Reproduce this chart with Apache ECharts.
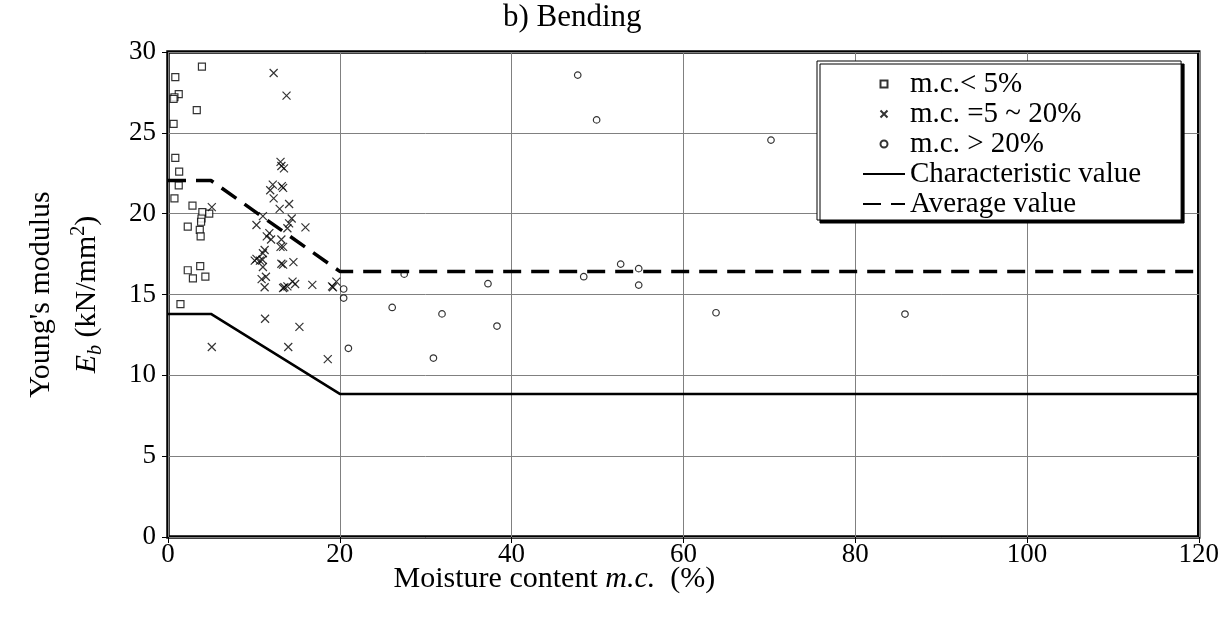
<!DOCTYPE html>
<html>
<head>
<meta charset="utf-8">
<script src="https://cdn.jsdelivr.net/npm/echarts@6/dist/echarts.min.js"></script>
<style>
  html, body { margin: 0; padding: 0; background: #fff; }
  #chartBending { width: 1222px; height: 623px; }
</style>
</head>
<body>
<div id="chartBending"></div>
<script>
// moisture content (%) and Young's modulus E_b (kN/mm2)
var dryPoints = [
  [3.95, 29.1], [0.85, 28.45], [1.25, 27.4], [0.75, 27.2], [0.65, 27.1], [3.35, 26.4],
  [0.65, 25.55], [0.85, 23.45], [1.3, 22.6], [1.25, 21.75], [0.75, 20.95], [2.85, 20.5],
  [4.0, 20.1], [4.8, 20.0], [3.9, 19.7], [3.85, 19.5], [2.3, 19.2], [3.7, 19.0],
  [3.8, 18.6], [2.3, 16.5], [3.75, 16.75], [2.9, 16.0], [4.35, 16.1], [1.45, 14.4]
];
var midPoints = [
  [12.3, 28.7], [13.8, 27.3], [13.1, 23.2], [13.2, 22.95], [13.5, 22.8], [12.2, 21.8],
  [13.25, 21.7], [13.4, 21.6], [11.9, 21.45], [12.3, 20.95], [14.1, 20.6], [13.0, 20.3],
  [11.05, 19.85], [14.4, 19.7], [10.3, 19.3], [14.1, 19.4], [13.9, 19.1], [16.0, 19.15],
  [5.1, 20.4], [11.8, 18.8], [11.5, 18.6], [12.0, 18.4], [13.2, 18.4], [13.1, 17.95],
  [13.4, 17.95], [11.25, 17.75], [11.05, 17.55], [10.3, 17.2], [10.7, 17.1], [11.0, 17.15],
  [10.1, 17.1], [11.05, 16.7], [13.2, 16.9], [13.4, 16.85], [14.6, 17.0], [10.9, 15.95],
  [11.4, 16.1], [11.25, 15.45], [13.55, 15.45], [13.4, 15.4], [13.9, 15.5], [14.5, 15.8],
  [14.8, 15.65], [16.8, 15.6], [19.1, 15.5], [19.2, 15.45], [19.6, 15.8], [11.3, 13.5],
  [15.3, 13.0], [14.0, 11.75], [18.6, 11.0], [5.1, 11.75]
];
var wetPoints = [
  [20.45, 15.34], [20.45, 14.78], [27.5, 16.26], [26.1, 14.2], [31.9, 13.8], [37.25, 15.67],
  [38.3, 13.05], [21.0, 11.67], [30.9, 11.07], [47.7, 28.57], [49.9, 25.8], [52.7, 16.88],
  [54.8, 16.6], [48.4, 16.1], [54.8, 15.58], [70.2, 24.55], [63.8, 13.87], [85.8, 13.79]
];
var charLine = [[0, 13.8], [5, 13.8], [20, 8.85], [120, 8.85]];
var avgLine = [[0, 22.05], [5, 22.05], [20, 16.43], [120, 16.43]];
var seriesNames = ['m.c.< 5%', 'm.c. =5 ~ 20%', 'm.c. > 20%', 'Characteristic value', 'Average value'];

var serif = 'Liberation Serif';
var squareSymbol = 'path://M0,0H10V10H0Z';
var crossSymbol = 'path://M0,0L10,10M10,0L0,10';
var noDot = { color: 'rgba(0,0,0,0)', borderColor: 'rgba(0,0,0,0)', borderWidth: 0 };

var chart = echarts.init(document.getElementById('chartBending'));

chart.setOption({
  animation: false,
  backgroundColor: '#fff',
  title: {
    text: 'b) Bending',
    left: 498,
    top: -3,
    textStyle: { fontFamily: serif, fontSize: 31, fontWeight: 'normal', color: '#000' }
  },
  grid: {
    left: 168, right: 19, top: 52, bottom: 86,
    show: true, borderColor: '#000', borderWidth: 3.5, backgroundColor: '#fff'
  },
  legend: {
    orient: 'vertical',
    left: 817, top: 61,
    padding: [8, 40, 1, 45],
    itemWidth: 42, itemHeight: 7, itemGap: 0,
    backgroundColor: '#fff', borderColor: '#000', borderWidth: 1,
    shadowColor: '#000', shadowBlur: 0, shadowOffsetX: 3, shadowOffsetY: 3,
    textStyle: { fontFamily: serif, fontSize: 29, color: '#000', lineHeight: 30 },
    data: [
      { name: seriesNames[0] },
      { name: seriesNames[1] },
      { name: seriesNames[2] },
      { name: seriesNames[3], itemStyle: noDot },
      { name: seriesNames[4], itemStyle: noDot }
    ]
  },
  xAxis: {
    type: 'value', min: 0, max: 120, interval: 20,
    name: '{n|Moisture content }{i|m.c.}{n|  (%)}',
    nameLocation: 'middle', nameGap: 27, nameMoveOverlap: false,
    nameTextStyle: {
      padding: [0, 258, 0, 0],
      rich: {
        n: { fontFamily: serif, fontSize: 30, color: '#000' },
        i: { fontFamily: serif, fontSize: 30, fontStyle: 'italic', color: '#000' }
      }
    },
    axisLine: { show: false },
    axisTick: { show: true, length: 6, lineStyle: { color: '#000', width: 1 } },
    axisLabel: { fontFamily: serif, fontSize: 27, color: '#000', margin: 4 },
    splitLine: { lineStyle: { color: '#808080', width: 1 } }
  },
  yAxis: {
    type: 'value', min: 0, max: 30, interval: 5,
    name: '{n|Young\'s modulus}\n{i|E}{s|b}{n| (kN/mm}{p|2}{n|)}',
    nameLocation: 'middle', nameGap: 58, nameRotate: 90, nameMoveOverlap: false,
    nameTextStyle: {
      lineHeight: 46,
      rich: {
        n: { fontFamily: serif, fontSize: 30, color: '#000', lineHeight: 46 },
        i: { fontFamily: serif, fontSize: 30, fontStyle: 'italic', color: '#000', lineHeight: 46 },
        s: { fontFamily: serif, fontSize: 20, fontStyle: 'italic', color: '#000', verticalAlign: 'bottom', lineHeight: 46, padding: [0, 0, 4, 0] },
        p: { fontFamily: serif, fontSize: 20, color: '#000', verticalAlign: 'top', lineHeight: 46, padding: [5, 0, 0, 0] }
      }
    },
    axisLine: { show: false },
    axisTick: { show: true, length: 6, lineStyle: { color: '#000', width: 1 } },
    axisLabel: { fontFamily: serif, fontSize: 27, color: '#000', margin: 12 },
    splitLine: { lineStyle: { color: '#808080', width: 1 } }
  },
  series: [
    {
      name: seriesNames[0], type: 'scatter', data: dryPoints,
      symbol: squareSymbol, symbolSize: 7,
      itemStyle: { color: '#fff', borderColor: '#000', borderWidth: 1.2 }
    },
    {
      name: seriesNames[1], type: 'scatter', data: midPoints,
      symbol: crossSymbol, symbolSize: 8,
      itemStyle: { color: '#000', borderColor: '#000', borderWidth: 1.2 }
    },
    {
      name: seriesNames[2], type: 'scatter', data: wetPoints,
      symbol: 'circle', symbolSize: 6.5,
      itemStyle: { color: '#fff', borderColor: '#000', borderWidth: 1.2 }
    },
    {
      name: seriesNames[3], type: 'line', data: charLine,
      symbol: 'none', z: 3,
      lineStyle: { color: '#000', width: 2.5 },
      itemStyle: { color: '#000' }
    },
    {
      name: seriesNames[4], type: 'line', data: avgLine,
      symbol: 'none', z: 3,
      lineStyle: { color: '#000', width: 3.5, type: [18, 10] },
      itemStyle: { color: '#000' }
    }
  ]
});
</script>
</body>
</html>
